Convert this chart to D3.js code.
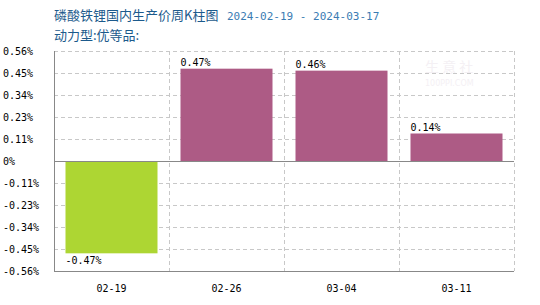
<!DOCTYPE html>
<html>
<head>
<meta charset="utf-8">
<script src="https://cdn.jsdelivr.net/npm/d3@7"></script>
<style>
  body { margin: 0; background: #fff; }
  svg { display: block; }
</style>
</head>
<body>
<div id="chart"></div>
<script>
const categories = ["02-19", "02-26", "03-04", "03-11"];
const values = [-0.47, 0.47, 0.46, 0.14];
const tickValues = [0.56, 0.448, 0.336, 0.224, 0.112, 0, -0.112, -0.224, -0.336, -0.448, -0.56];
const tickLabels = ["0.56%", "0.45%", "0.34%", "0.23%", "0.11%", "0%", "-0.11%", "-0.23%", "-0.34%", "-0.45%", "-0.56%"];

const width = 540, height = 305;
const margin = { top: 51, right: 26, bottom: 34, left: 54 };
const mono = "'DejaVu Sans Mono', monospace";

const svg = d3.select("#chart").append("svg")
  .attr("width", width)
  .attr("height", height);

const x = d3.scaleBand()
  .domain(categories)
  .range([margin.left, width - margin.right])
  .paddingInner(0.2)
  .paddingOuter(0.1);

const y = d3.scaleLinear()
  .domain([-0.56, 0.56])
  .range([height - margin.bottom, margin.top]);

// title
svg.append("text")
  .attr("x", 54).attr("y", 20)
  .attr("font-family", "'Noto Sans CJK SC', sans-serif")
  .attr("font-size", 13)
  .attr("fill", "#1c5a8c")
  .text("磷酸铁锂国内生产价周K柱图");
svg.append("text")
  .attr("x", 227).attr("y", 20)
  .attr("font-family", mono)
  .attr("font-size", 11)
  .attr("fill", "#3b7cb3")
  .text("2024-02-19 - 2024-03-17");
svg.append("text")
  .attr("x", 54).attr("y", 40)
  .attr("font-family", "'Noto Sans CJK SC', sans-serif")
  .attr("font-size", 13)
  .attr("fill", "#1c5a8c")
  .text("动力型:优等品:");

// watermark
svg.append("text")
  .attr("x", 425).attr("y", 72)
  .attr("font-family", "'Noto Sans CJK SC', sans-serif")
  .attr("font-size", 14)
  .attr("fill", "#f4f0f4")
  .text("生 意 社");
svg.append("text")
  .attr("x", 425).attr("y", 86)
  .attr("font-family", "'DejaVu Sans', sans-serif")
  .attr("font-size", 8)
  .attr("fill", "#f4f0f4")
  .text("100PPI.COM");

// horizontal grid
svg.append("g")
  .selectAll("line")
  .data(tickValues.filter(d => d !== 0 && d !== -0.56))
  .join("line")
  .attr("x1", margin.left).attr("x2", width - margin.right)
  .attr("y1", d => Math.round(y(d)) + 0.5).attr("y2", d => Math.round(y(d)) + 0.5)
  .attr("stroke", "#c8c8c8")
  .attr("stroke-dasharray", "4,3");

// vertical grid at band boundaries
const bandEdge = (width - margin.left - margin.right) / categories.length;
svg.append("g")
  .selectAll("line")
  .data(categories.map((c, i) => margin.left + bandEdge * (i + 1)))
  .join("line")
  .attr("x1", d => Math.round(d) + 0.5).attr("x2", d => Math.round(d) + 0.5)
  .attr("y1", margin.top).attr("y2", height - margin.bottom)
  .attr("stroke", "#c8c8c8")
  .attr("stroke-dasharray", "4,3");

// bars
svg.append("g")
  .selectAll("rect")
  .data(values)
  .join("rect")
  .attr("x", (d, i) => x(categories[i]))
  .attr("width", x.bandwidth())
  .attr("y", d => y(Math.max(0, d)))
  .attr("height", d => Math.abs(y(d) - y(0)))
  .attr("fill", d => d < 0 ? "#add633" : "#ad5b85");

// value labels
svg.append("g")
  .selectAll("text")
  .data(values)
  .join("text")
  .attr("x", (d, i) => x(categories[i]))
  .attr("y", d => d < 0 ? y(d) + 11 : y(d) - 3)
  .attr("font-family", mono)
  .attr("font-size", 10)
  .attr("fill", "#000")
  .text(d => d.toFixed(2) + "%");

// zero line and axes
svg.append("line")
  .attr("x1", margin.left).attr("x2", width - margin.right)
  .attr("y1", Math.round(y(0)) + 0.5).attr("y2", Math.round(y(0)) + 0.5)
  .attr("stroke", "#888");

svg.append("line")
  .attr("x1", margin.left + 0.5).attr("x2", margin.left + 0.5)
  .attr("y1", margin.top).attr("y2", height - margin.bottom)
  .attr("stroke", "#888");
svg.append("line")
  .attr("x1", margin.left).attr("x2", width - margin.right)
  .attr("y1", height - margin.bottom + 0.5).attr("y2", height - margin.bottom + 0.5)
  .attr("stroke", "#888");

// y tick labels, left aligned
svg.append("g")
  .selectAll("text")
  .data(tickValues)
  .join("text")
  .attr("x", 3)
  .attr("y", d => y(d) + 4)
  .attr("font-family", mono)
  .attr("font-size", 10)
  .attr("fill", "#000")
  .text((d, i) => tickLabels[i]);

// x axis labels
const xAxis = g => g
  .attr("transform", `translate(0,${height - margin.bottom})`)
  .call(d3.axisBottom(x).tickSize(0).tickPadding(14))
  .call(g => g.select(".domain").remove())
  .call(g => g.selectAll("text")
    .attr("font-family", mono)
    .attr("font-size", 10)
    .attr("fill", "#000"));
svg.append("g").call(xAxis);
</script>
</body>
</html>
